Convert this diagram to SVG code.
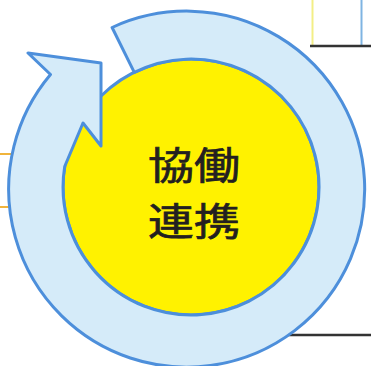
<svg xmlns="http://www.w3.org/2000/svg" width="371" height="366" viewBox="0 0 371 366">
  <style>
    .ring { fill: #d5ebf9; stroke: #4d8fdb; stroke-width: 3; stroke-linejoin: round; }
    .core { fill: #fff200; stroke: #4d8fdb; stroke-width: 3; }
    .label { font-family: "Noto Sans CJK JP", "Noto Sans CJK SC", sans-serif; font-size: 38px; font-weight: 400; fill: #231f20; stroke: #231f20; stroke-width: 0.7; text-anchor: middle; }
  </style>
  <rect width="371" height="366" fill="#ffffff"/>
  <g id="connectors">
    <line x1="312.5" y1="0" x2="312.5" y2="45" stroke="#f3ee86" stroke-width="2"/>
    <line x1="361.5" y1="0" x2="361.5" y2="45" stroke="#7fb4e2" stroke-width="2"/>
    <line x1="310" y1="46" x2="371" y2="46" stroke="#333333" stroke-width="2.5"/>
    <line x1="285" y1="335" x2="371" y2="335" stroke="#333333" stroke-width="2.5"/>
    <line x1="0" y1="154" x2="14" y2="154" stroke="#f0b43c" stroke-width="2"/>
    <line x1="0" y1="207" x2="14" y2="207" stroke="#f0b43c" stroke-width="2"/>
  </g>
  <g id="center">
    <circle class="core" cx="191" cy="187" r="128"/>
  </g>
  <g id="cycle-arrow">
    <path class="ring" d="M112.1,27.5 A178,178 0 1,1 50.5,74.5 L28,53 L101,63 L101,146 L83,123 L64.7,166.5 A128,128 0 1,0 134.3,72.3 Z"/>
  </g>
  <g id="center-label">
    <text class="label" x="194" y="179" textLength="92" lengthAdjust="spacingAndGlyphs">協働</text>
    <text class="label" x="194" y="235" textLength="92" lengthAdjust="spacingAndGlyphs">連携</text>
  </g>
</svg>
